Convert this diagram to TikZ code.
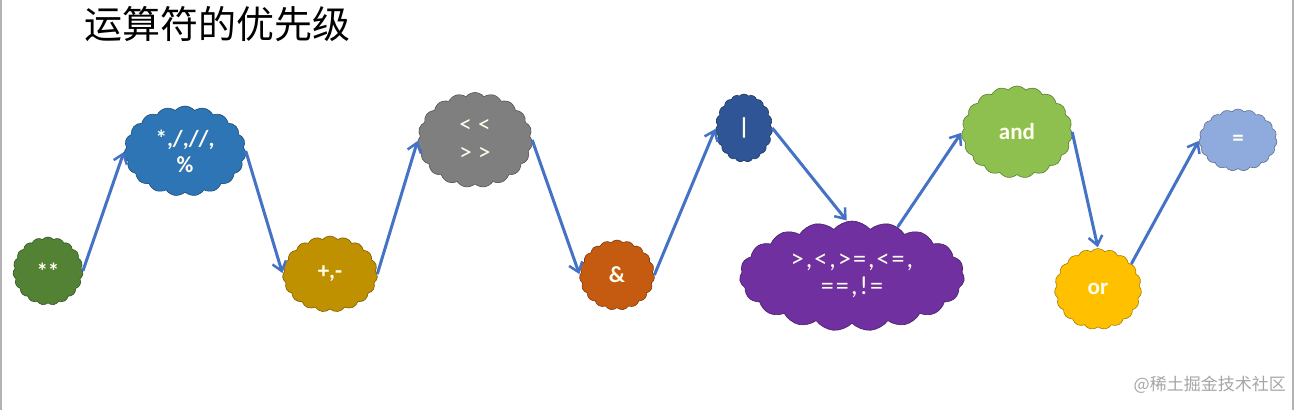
\documentclass[tikz,border=0pt]{standalone}
\usepackage{fontspec}
\newfontfamily\cjkfont{Noto Sans CJK SC}
\newfontfamily\calfont{Carlito}
\usetikzlibrary{shapes.symbols,arrows.meta}
\definecolor{cgreen}{HTML}{548235}
\definecolor{cblue}{HTML}{2E75B6}
\definecolor{cgold}{HTML}{BF9000}
\definecolor{cgray}{HTML}{7F7F7F}
\definecolor{corange}{HTML}{C55A11}
\definecolor{cdblue}{HTML}{2F5597}
\definecolor{cpurple}{HTML}{7030A0}
\definecolor{clgreen}{HTML}{8DC04E}
\definecolor{cyellow}{HTML}{FFC000}
\definecolor{clblue}{HTML}{8FAADC}
\definecolor{carrow}{HTML}{4472C4}
\tikzset{
  puff/.style={cloud, cloud puffs=19, cloud puff arc=100, cloud ignores aspect,
    inner sep=0pt, fill=#1, draw=#1!65!black, line width=0.6pt,
    text=white!94!yellow, font=\calfont\bfseries\fontsize{23}{26}\selectfont, align=center},
  flow/.style={draw=carrow, line width=3pt, -{Straight Barb[length=9pt,width=14pt,line width=2.5pt]}, shorten >=1pt}
}
\begin{document}
\begin{tikzpicture}[x=1pt,y=-1pt]
\useasboundingbox (0,0) rectangle (1295,410);
\fill[white] (0,0) rectangle (1295,410);
\draw[gray!60, line width=1.5pt] (1,0) -- (1,410);
\draw[gray!60, line width=1.5pt] (1293,0) -- (1293,410);
\node[font=\cjkfont\fontsize{38}{42}\selectfont, anchor=center] (title) at (217,24) {运算符的优先级};
\node[puff=cgreen, minimum width=70pt, minimum height=68pt] (c1) at (48,271) {**};
\node[puff=cblue, minimum width=122pt, minimum height=90pt] (c2) at (185,151) {*,/,//,\\\%};
\node[puff=cgray, minimum width=115pt, minimum height=95pt, font=\calfont\fontsize{25}{28}\selectfont] (c4) at (475,140) {\addfontfeature{LetterSpace=25}<<\\\addfontfeature{LetterSpace=25}>>};
\node[puff=cgold, minimum width=95pt, minimum height=76pt] (c3) at (330,274) {+,-};
\node[puff=corange, minimum width=75pt, minimum height=70pt] (c5) at (617,275) {\&};
\node[puff=cdblue, minimum width=57pt, minimum height=68pt] (c6) at (744,128) {|};
\node[puff=cpurple, minimum width=225pt, minimum height=110pt, font=\calfont\fontsize{26}{27}\selectfont] (c7) at (852,276) {\addfontfeature{LetterSpace=8}>,<,>=,<=,\\\addfontfeature{LetterSpace=8}==,!=};
\node[puff=clgreen, minimum width=111pt, minimum height=92pt] (c8) at (1017,132) {and};
\node[puff=cyellow, minimum width=87pt, minimum height=81pt] (c9) at (1098,289) {or};
\node[puff=clblue, minimum width=78pt, minimum height=62pt] (c10) at (1238,140) {=};
\draw[flow] (c1.east) -- (c2.west);
\draw[flow] (c2.east) -- (c3.west);
\draw[flow] (c3.east) -- (c4.west);
\draw[flow] (c4.east) -- (c5.west);
\draw[flow] (c5.east) -- (c6.west);
\draw[flow] (c6.east) -- (c7.95);
\draw[flow] (c7.47) -- (c8.west);
\draw[flow] (c8.east) -- (c9.north);
\draw[flow] (c9.37) -- (c10.west);
\node[font=\cjkfont\fontsize{17}{20}\selectfont, text=gray!70, anchor=east, inner sep=0pt] (wm) at (1286,385) {@稀土掘金技术社区};
\end{tikzpicture}
\end{document}
